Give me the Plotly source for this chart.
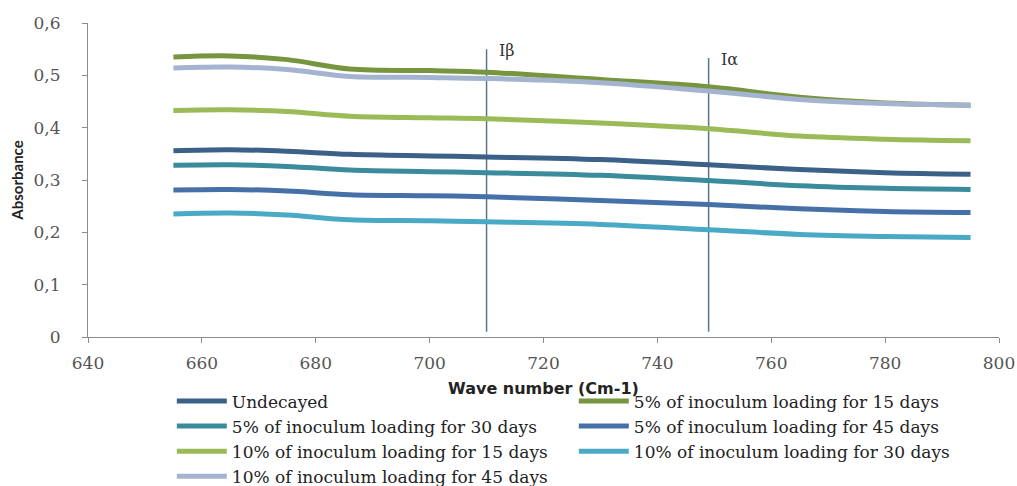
import plotly.graph_objects as go

wave_number = [655, 665, 675, 686, 700, 710, 730, 749, 765, 780, 795]

series_names = [
    "Undecayed",
    "5% of inoculum loading for 15 days",
    "5% of inoculum loading for 30 days",
    "5% of inoculum loading for 45 days",
    "10% of inoculum loading for 15 days",
    "10% of inoculum loading for 30 days",
    "10% of inoculum loading for 45 days",
]

undecayed = [0.356, 0.358, 0.355, 0.349, 0.346, 0.344, 0.339, 0.329, 0.320, 0.314, 0.311]
p5_d15 = [0.535, 0.537, 0.530, 0.512, 0.509, 0.506, 0.492, 0.478, 0.458, 0.447, 0.443]
p5_d30 = [0.328, 0.329, 0.326, 0.319, 0.316, 0.314, 0.309, 0.299, 0.289, 0.284, 0.282]
p5_d45 = [0.281, 0.282, 0.279, 0.272, 0.270, 0.268, 0.261, 0.253, 0.245, 0.240, 0.238]
p10_d15 = [0.433, 0.434, 0.431, 0.422, 0.419, 0.417, 0.409, 0.398, 0.384, 0.378, 0.375]
p10_d30 = [0.235, 0.237, 0.233, 0.224, 0.222, 0.220, 0.215, 0.205, 0.196, 0.192, 0.190]
p10_d45 = [0.514, 0.516, 0.511, 0.498, 0.496, 0.494, 0.486, 0.470, 0.454, 0.446, 0.443]

series_values = [undecayed, p5_d15, p5_d30, p5_d45, p10_d15, p10_d30, p10_d45]
series_colors = ["#3c6188", "#77953f", "#3a8b9b", "#4670a8", "#9bbb59", "#4aaac6", "#a4b4d0"]

marker_x = [710, 749]
marker_bottom = [0.01, 0.01]
marker_top = [0.55, 0.533]
marker_labels = ["Iβ", "Iα"]

x_ticks = [640, 660, 680, 700, 720, 740, 760, 780, 800]
y_ticks = [0, 0.1, 0.2, 0.3, 0.4, 0.5, 0.6]
y_tick_labels = ["0", "0,1", "0,2", "0,3", "0,4", "0,5", "0,6"]

fig = go.Figure()

for mx, mb, mt in zip(marker_x, marker_bottom, marker_top):
    fig.add_trace(go.Scatter(x=[mx, mx], y=[mb, mt], mode="lines",
                             line=dict(color="#56778f", width=1.5),
                             showlegend=False, hoverinfo="skip"))

for name, vals, col in zip(series_names, series_values, series_colors):
    fig.add_trace(go.Scatter(x=wave_number, y=vals, name=name, mode="lines",
                             line=dict(color=col, width=5, shape="spline", smoothing=1)))

for mx, mt, lab in zip(marker_x, marker_top, marker_labels):
    fig.add_annotation(x=mx, y=mt, text=lab, showarrow=False,
                       xanchor="left", yanchor="middle", xshift=10, yshift=-1,
                       font=dict(family="DejaVu Serif", size=16, color="#333333"))

axis_col = "#8c8c8c"
fig.update_layout(
    width=1017, height=486,
    margin=dict(l=88, r=18, t=23, b=149, autoexpand=False),
    paper_bgcolor="white", plot_bgcolor="white",
    showlegend=True,
    legend=dict(orientation="h", x=0.092, xanchor="left", y=-0.148, yanchor="top",
                entrywidth=337, entrywidthmode="pixels", itemwidth=50,
                font=dict(family="DejaVu Serif", size=17, color="#222222"),
                bgcolor="rgba(0,0,0,0)", tracegroupgap=0),
    xaxis=dict(range=[640, 800], tickvals=x_ticks, showgrid=False, zeroline=False,
               showline=True, linecolor=axis_col, linewidth=1,
               ticks="outside", ticklen=5, tickcolor=axis_col,
               ticklabelstandoff=6,
               tickfont=dict(family="DejaVu Serif", size=17, color="#555555"),
               title=dict(text="Wave number (Cm-1)", standoff=10,
                          font=dict(family="DejaVu Sans", size=16, color="#222222", weight="bold"))),
    yaxis=dict(range=[0, 0.6], tickvals=y_ticks, ticktext=y_tick_labels, showgrid=False,
               zeroline=False, showline=True, linecolor=axis_col, linewidth=1,
               ticks="outside", ticklen=5, tickcolor=axis_col,
               ticklabelstandoff=18,
               tickfont=dict(family="DejaVu Serif", size=17, color="#555555"),
               title=dict(text="Absorbance", standoff=6,
                          font=dict(family="Lato", size=15, color="#222222", weight="bold"))),
)

fig.write_html("out.html", config={"displayModeBar": False},
               post_script="document.body.style.margin='0';")
